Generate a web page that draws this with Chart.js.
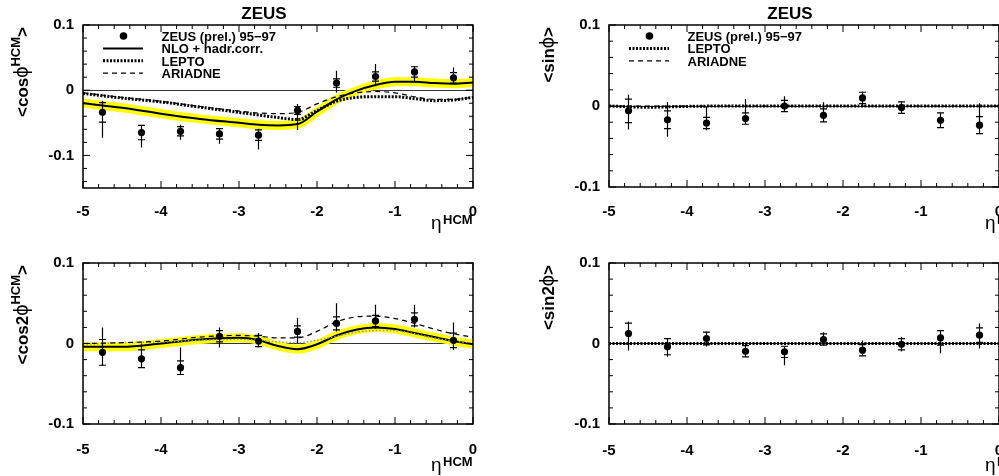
<!DOCTYPE html>
<html>
<head>
<meta charset="utf-8">
<script src="https://cdn.jsdelivr.net/npm/chart.js"></script>
<style>
  html, body { margin: 0; padding: 0; background: #fff; overflow: hidden; }
  body { width: 999px; height: 476px; position: relative; }
  canvas { position: absolute; }
</style>
</head>
<body>
<canvas id="cosPhi" width="500" height="238" style="left:0;top:0"></canvas>
<canvas id="sinPhi" width="540" height="238" style="left:500px;top:0"></canvas>
<canvas id="cos2Phi" width="500" height="238" style="left:0;top:238px"></canvas>
<canvas id="sin2Phi" width="540" height="238" style="left:500px;top:238px"></canvas>
<script>
// eta bins of the measurement
const etaBins = [-4.75, -4.25, -3.75, -3.25, -2.75, -2.25, -1.75, -1.25, -0.75, -0.25]

// <cos phi>
const cosPhiData = [-0.034, -0.065, -0.063, -0.067, -0.069, -0.031, 0.011, 0.021, 0.028, 0.019]
const cosPhiStat = [0.015, 0.011, 0.007, 0.008, 0.008, 0.006, 0.0065, 0.007, 0.008, 0.008]
const cosPhiTotUp = [0.018, 0.012, 0.010, 0.009, 0.010, 0.010, 0.019, 0.019, 0.009, 0.016]
const cosPhiTotDown = [0.039, 0.023, 0.013, 0.015, 0.022, 0.030, 0.015, 0.015, 0.016, 0.009]

// <cos 2phi>
const cos2PhiData = [-0.011, -0.019, -0.030, 0.009, 0.003, 0.015, 0.025, 0.028, 0.030, 0.004]
const cos2PhiStat = [0.016, 0.011, 0.0085, 0.007, 0.007, 0.007, 0.008, 0.007, 0.008, 0.009]
const cos2PhiTotUp = [0.031, 0.019, 0.025, 0.011, 0.010, 0.017, 0.025, 0.020, 0.018, 0.022]
const cos2PhiTotDown = [0.017, 0.011, 0.008, 0.014, 0.008, 0.015, 0.010, 0.010, 0.010, 0.012]

// <sin phi>
const sinPhiData = [-0.006, -0.017, -0.021, -0.0155, 0.000, -0.0115, 0.010, -0.002, -0.0176, -0.0237]
const sinPhiStat = [0.0145, 0.011, 0.007, 0.007, 0.007, 0.008, 0.007, 0.007, 0.009, 0.0105]
const sinPhiTotUp = [0.020, 0.022, 0.020, 0.024, 0.012, 0.016, 0.008, 0.008, 0.010, 0.027]
const sinPhiTotDown = [0.023, 0.021, 0.009, 0.007, 0.007, 0.008, 0.009, 0.008, 0.010, 0.011]

// <sin 2phi>
const sin2PhiData = [0.0124, -0.004, 0.0062, -0.0096, -0.0104, 0.005, -0.0083, -0.001, 0.007, 0.0103]
const sin2PhiStat = [0.013, 0.010, 0.008, 0.007, 0.007, 0.007, 0.007, 0.007, 0.009, 0.009]
const sin2PhiTotUp = [0.015, 0.010, 0.009, 0.0096, 0.007, 0.009, 0.012, 0.009, 0.0095, 0.0145]
const sin2PhiTotDown = [0.021, 0.0125, 0.010, 0.007, 0.0166, 0.007, 0.008, 0.009, 0.019, 0.0165]

// theory curves, sampled along eta
const curveEta = [-5, -4.5, -4, -3.5, -3, -2.75, -2.5, -2.25, -2, -1.75, -1.5, -1.25, -1, -0.75, -0.5, -0.25, 0]
const cosPhiNlo = [-0.020, -0.027, -0.036, -0.044, -0.050, -0.053, -0.054, -0.052, -0.033, -0.014, -0.001, 0.008, 0.013, 0.013, 0.011, 0.010, 0.012]
const cosPhiLepto = [-0.005, -0.012, -0.018, -0.026, -0.034, -0.038, -0.042, -0.045, -0.031, -0.017, -0.011, -0.010, -0.010, -0.013, -0.016, -0.015, -0.011]
const cosPhiAriadne = [-0.004, -0.011, -0.017, -0.025, -0.032, -0.035, -0.036, -0.034, -0.021, -0.010, -0.004, -0.002, -0.004, -0.010, -0.014, -0.014, -0.011]
const cos2PhiNlo = [-0.004, -0.004, 0.000, 0.005, 0.007, 0.004, -0.003, -0.007, -0.001, 0.010, 0.017, 0.020, 0.018, 0.013, 0.008, 0.003, -0.001]
const cos2PhiLepto = [-0.001, 0.001, 0.002, 0.004, 0.005, 0.004, 0.002, 0.001, 0.004, 0.009, 0.014, 0.016, 0.016, 0.012, 0.007, 0.003, 0.000]
const cos2PhiAriadne = [0.000, 0.001, 0.003, 0.008, 0.010, 0.009, 0.007, 0.007, 0.015, 0.027, 0.033, 0.034, 0.031, 0.025, 0.018, 0.012, 0.008]
const sinPhiLepto = [0.000, -0.0015, -0.0005, 0, 0, 0, 0, 0, 0, 0, 0, 0, 0, 0, 0, 0, 0]
const sinPhiAriadne = [0, 0, 0, 0, 0, 0, 0, 0, 0, 0, 0, 0, 0, 0, 0, 0, 0]
const sin2PhiLepto = [0, 0, 0, 0, 0, 0, 0, 0, 0, 0, 0, 0, 0, 0, 0, 0, 0]
const sin2PhiAriadne = [0, 0, 0, 0, 0, 0, 0, 0, 0, 0, 0, 0, 0, 0, 0, 0, 0]

// axis ticks
const etaTickValues = [-5, -4, -3, -2, -1, 0]
const etaTickLabels = ['-5', '-4', '-3', '-2', '-1', '0']
const asymTickValues = [-0.1, 0, 0.1]
const asymTickLabels = ['-0.1', '0', '0.1']

const sansFamily = "'Liberation Sans', Arial, Helvetica, sans-serif"
Chart.defaults.font.family = sansFamily
Chart.defaults.color = '#000'

const STYLE = {
  band: { borderColor: '#ffff00', borderWidth: 9, borderDash: [] },
  nlo: { borderColor: '#000', borderWidth: 2, borderDash: [] },
  lepto: { borderColor: '#000', borderWidth: 3, borderDash: [2, 1.5] },
  leptoFaint: { borderColor: '#9a9a9a', borderWidth: 1.5, borderDash: [1.5, 2] },
  ariadne: { borderColor: '#000', borderWidth: 1.2, borderDash: [5, 4] }
}

function curve(values, style, order) {
  return Object.assign({
    data: curveEta.map((x, i) => ({ x, y: values[i] })),
    showLine: true,
    pointRadius: 0,
    fill: false,
    clip: 0,
    cubicInterpolationMode: 'monotone',
    order
  }, style)
}

function points(values) {
  return {
    data: etaBins.map((x, i) => ({ x, y: values[i] })),
    showLine: false,
    pointRadius: 3.6,
    pointBackgroundColor: '#000',
    pointBorderWidth: 0,
    order: 0
  }
}

function drawLineSample(ctx, style, x0, x1, y) {
  ctx.save()
  ctx.strokeStyle = style.borderColor
  ctx.lineWidth = style.borderWidth
  ctx.setLineDash(style.borderDash)
  ctx.beginPath()
  ctx.moveTo(x0, y)
  ctx.lineTo(x1, y)
  ctx.stroke()
  ctx.restore()
}

function drawYTitle(ctx, x, yEnd, parts) {
  ctx.save()
  let total = 0
  parts.forEach(p => {
    ctx.font = p.font
    p.w = ctx.measureText(p.text).width
    total += p.w
  })
  ctx.translate(x, yEnd)
  ctx.rotate(-Math.PI / 2)
  ctx.fillStyle = '#000'
  ctx.textBaseline = 'alphabetic'
  let cx = -total
  parts.forEach(p => {
    ctx.font = p.font
    ctx.fillText(p.text, cx, -(p.rise || 0))
    cx += p.w
  })
  ctx.restore()
}

function zeusOverlay(cfg) {
  return {
    id: 'zeusOverlay',
    afterDatasetsDraw(chart) {
      const { ctx, scales: { x, y } } = chart
      ctx.save()
      ctx.strokeStyle = '#000'
      ctx.lineWidth = 1.2
      cfg.values.forEach((v, i) => {
        const px = x.getPixelForValue(etaBins[i])
        const s = cfg.stat[i]
        const top = y.getPixelForValue(v + Math.max(s, cfg.up[i]))
        const bot = y.getPixelForValue(v - Math.max(s, cfg.down[i]))
        ctx.beginPath()
        ctx.moveTo(px, top)
        ctx.lineTo(px, bot)
        const sUp = y.getPixelForValue(v + s)
        const sDn = y.getPixelForValue(v - s)
        ctx.moveTo(px - 3.5, sUp)
        ctx.lineTo(px + 3.5, sUp)
        ctx.moveTo(px - 3.5, sDn)
        ctx.lineTo(px + 3.5, sDn)
        ctx.stroke()
      })
      ctx.restore()
    },
    afterDraw(chart) {
      const { ctx, chartArea: a, scales: { x, y } } = chart
      ctx.save()
      // frame
      ctx.strokeStyle = '#000'
      ctx.lineWidth = 1.5
      ctx.strokeRect(a.left, a.top, a.right - a.left, a.bottom - a.top)

      // inward ticks on all sides
      ctx.lineWidth = 1
      ctx.beginPath()
      for (let i = -25; i <= 0; i++) {
        const px = x.getPixelForValue(i * 0.2)
        const len = i % 5 === 0 ? 7 : 4
        ctx.moveTo(px, a.bottom)
        ctx.lineTo(px, a.bottom - len)
        ctx.moveTo(px, a.top)
        ctx.lineTo(px, a.top + len)
      }
      const i0 = Math.ceil(y.min / 0.02 - 1e-6)
      const i1 = Math.floor(y.max / 0.02 + 1e-6)
      for (let i = i0; i <= i1; i++) {
        const py = y.getPixelForValue(i * 0.02)
        const len = i % 5 === 0 ? 7 : 4
        ctx.moveTo(a.left, py)
        ctx.lineTo(a.left + len, py)
        ctx.moveTo(a.right, py)
        ctx.lineTo(a.right - len, py)
      }
      ctx.stroke()

      // title
      ctx.fillStyle = '#000'
      if (cfg.title) {
        ctx.font = 'bold 17px ' + sansFamily
        ctx.textAlign = 'center'
        ctx.fillText(cfg.title, (a.left + a.right) / 2 - 14, 18.5)
      }

      // legend
      ctx.textAlign = 'left'
      ctx.font = 'bold 13px ' + sansFamily
      ;(cfg.legend || []).forEach((item, k) => {
        const ly = a.top + 11 + k * 12.4
        if (item.kind === 'dot') {
          ctx.beginPath()
          ctx.arc(a.left + 40.5, ly, 3.8, 0, Math.PI * 2)
          ctx.fill()
        } else {
          drawLineSample(ctx, STYLE[item.kind], a.left + 20, a.left + 60, ly)
        }
        ctx.fillText(item.text, a.left + 78.5, ly + 4.8)
      })

      // y title
      drawYTitle(ctx, a.left - 55, a.top + 2, cfg.yTitle)

      // x title
      ctx.font = '19px ' + sansFamily
      ctx.fillText('\u03b7', cfg.etaX, a.bottom + cfg.etaDy)
      ctx.font = 'bold 13px ' + sansFamily
      ctx.fillText('HCM', cfg.etaX + 12, a.bottom + cfg.etaDy - 5)
      ctx.restore()
    }
  }
}

function makePanel(id, cfg) {
  const tickFont = { size: 15, weight: 'bold', family: sansFamily }
  return new Chart(document.getElementById(id), {
    type: 'scatter',
    data: { datasets: cfg.datasets },
    options: {
      responsive: false,
      animation: false,
      devicePixelRatio: 1,
      events: [],
      layout: { padding: { left: 0, right: cfg.padRight, top: 25, bottom: 0 } },
      plugins: {
        legend: { display: false },
        tooltip: { enabled: false },
        title: { display: false }
      },
      scales: {
        x: {
          type: 'linear',
          min: -5,
          max: 0,
          afterBuildTicks: s => { s.ticks = etaTickValues.map(v => ({ value: v })) },
          afterFit: s => { s.height = cfg.xHeight },
          ticks: {
            padding: cfg.xPad,
            font: tickFont,
            color: '#000',
            autoSkip: false,
            maxRotation: 0,
            callback: (v, i) => etaTickLabels[i]
          },
          grid: { display: false },
          border: { display: false }
        },
        y: {
          type: 'linear',
          min: cfg.yMin,
          max: cfg.yMax,
          afterBuildTicks: s => { s.ticks = asymTickValues.map(v => ({ value: v })) },
          afterFit: s => { s.width = cfg.yWidth },
          ticks: {
            padding: 9,
            font: tickFont,
            color: '#000',
            autoSkip: false,
            callback: (v, i) => asymTickLabels[i]
          },
          grid: {
            drawTicks: false,
            lineWidth: 1,
            color: c => (c.tick && c.tick.value === 0 ? '#333' : 'rgba(0,0,0,0)')
          },
          border: { display: false }
        }
      }
    },
    plugins: [zeusOverlay(cfg)]
  })
}

const boldMain = 'bold 17px ' + sansFamily
const phiFont = '20px ' + sansFamily
const supFont = 'bold 13px ' + sansFamily

makePanel('cosPhi', {
  title: 'ZEUS',
  yMin: -0.15, yMax: 0.1, yWidth: 83, padRight: 27, xHeight: 50, xPad: 6.5,
  etaX: 431, etaDy: 41,
  values: cosPhiData, stat: cosPhiStat, up: cosPhiTotUp, down: cosPhiTotDown,
  yTitle: [
    { text: '<cos', font: boldMain },
    { text: '\u03d5', font: phiFont },
    { text: 'HCM', font: supFont, rise: 8 },
    { text: '>', font: boldMain }
  ],
  legend: [
    { kind: 'dot', text: 'ZEUS (prel.) 95\u221297' },
    { kind: 'nlo', text: 'NLO + hadr.corr.' },
    { kind: 'lepto', text: 'LEPTO' },
    { kind: 'ariadne', text: 'ARIADNE' }
  ],
  datasets: [
    points(cosPhiData),
    curve(cosPhiAriadne, STYLE.ariadne, 1),
    curve(cosPhiLepto, STYLE.lepto, 2),
    curve(cosPhiNlo, STYLE.nlo, 3),
    curve(cosPhiNlo, STYLE.band, 4)
  ]
})

makePanel('cos2Phi', {
  yMin: -0.1, yMax: 0.1, yWidth: 83, padRight: 27, xHeight: 52, xPad: 9,
  etaX: 431, etaDy: 47,
  values: cos2PhiData, stat: cos2PhiStat, up: cos2PhiTotUp, down: cos2PhiTotDown,
  yTitle: [
    { text: '<cos2', font: boldMain },
    { text: '\u03d5', font: phiFont },
    { text: 'HCM', font: supFont, rise: 8 },
    { text: '>', font: boldMain }
  ],
  datasets: [
    points(cos2PhiData),
    curve(cos2PhiAriadne, STYLE.ariadne, 1),
    curve(cos2PhiLepto, STYLE.leptoFaint, 2),
    curve(cos2PhiNlo, STYLE.nlo, 3),
    curve(cos2PhiNlo, STYLE.band, 4)
  ]
})

makePanel('sinPhi', {
  title: 'ZEUS',
  yMin: -0.1, yMax: 0.1, yWidth: 109, padRight: 41, xHeight: 51, xPad: 8,
  etaX: 485, etaDy: 42,
  values: sinPhiData, stat: sinPhiStat, up: sinPhiTotUp, down: sinPhiTotDown,
  yTitle: [
    { text: '<sin', font: boldMain },
    { text: '\u03d5', font: phiFont },
    { text: '>', font: boldMain }
  ],
  legend: [
    { kind: 'dot', text: 'ZEUS (prel.) 95\u221297' },
    { kind: 'lepto', text: 'LEPTO' },
    { kind: 'ariadne', text: 'ARIADNE' }
  ],
  datasets: [
    points(sinPhiData),
    curve(sinPhiAriadne, STYLE.ariadne, 2),
    curve(sinPhiLepto, STYLE.lepto, 1)
  ]
})

makePanel('sin2Phi', {
  yMin: -0.1, yMax: 0.1, yWidth: 109, padRight: 41, xHeight: 52, xPad: 9.5,
  etaX: 485, etaDy: 47,
  values: sin2PhiData, stat: sin2PhiStat, up: sin2PhiTotUp, down: sin2PhiTotDown,
  yTitle: [
    { text: '<sin2', font: boldMain },
    { text: '\u03d5', font: phiFont },
    { text: '>', font: boldMain }
  ],
  datasets: [
    points(sin2PhiData),
    curve(sin2PhiAriadne, STYLE.ariadne, 2),
    curve(sin2PhiLepto, STYLE.lepto, 1)
  ]
})
</script>
</body>
</html>
